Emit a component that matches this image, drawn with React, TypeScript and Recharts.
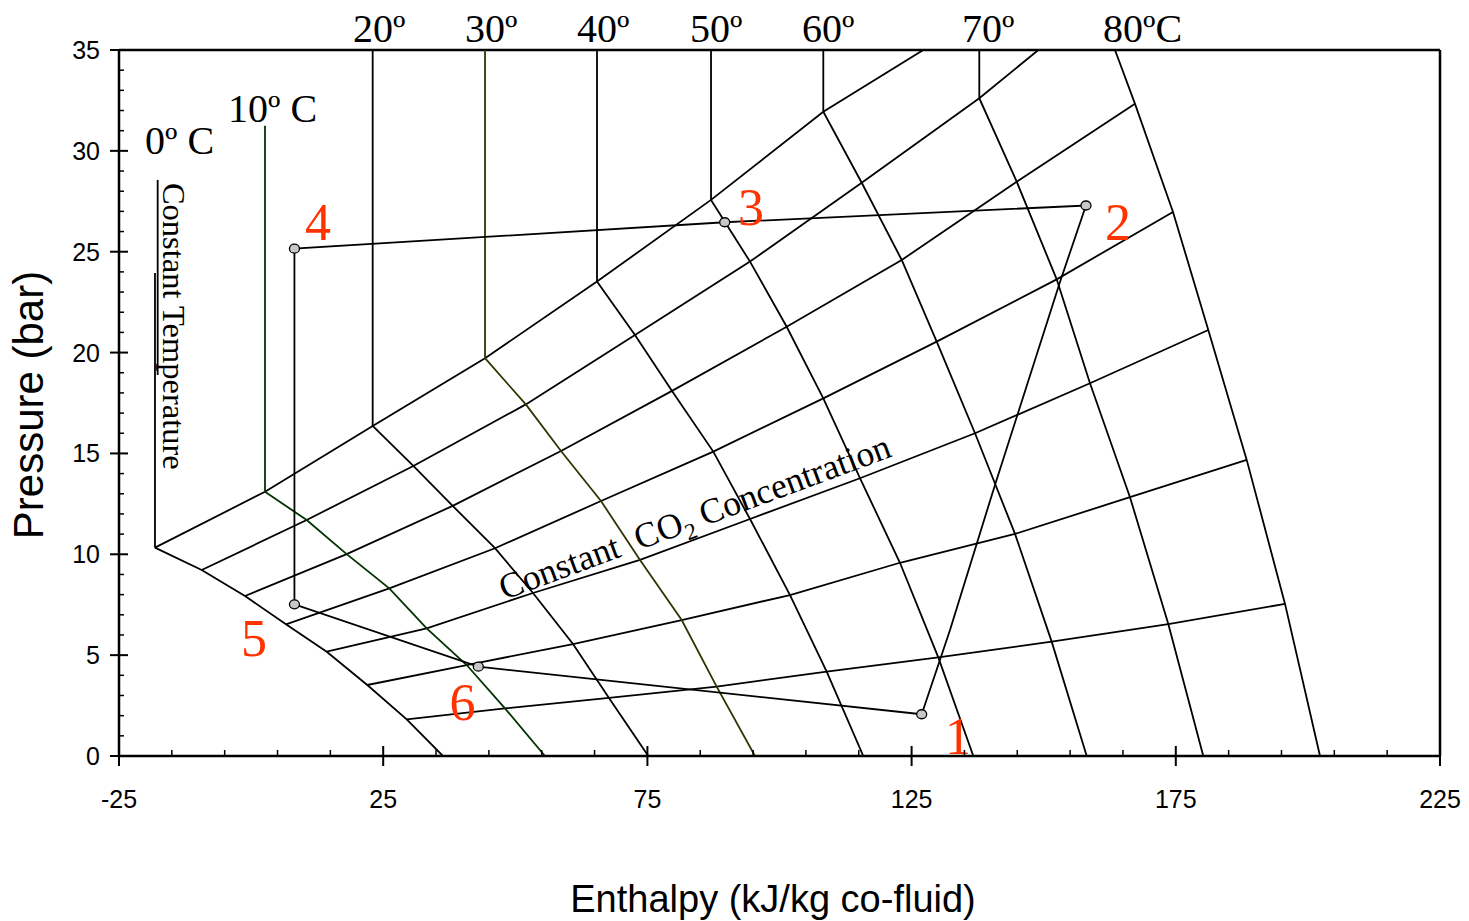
import React from 'react';
import { ComposedChart, Line, Scatter, XAxis, YAxis, ReferenceLine, ReferenceDot } from 'recharts';

type Pt = [number, number]; // [enthalpy kJ/kg, pressure bar]

const SERIF = '"Liberation Serif", "Times New Roman", serif';
const SANS = '"Liberation Sans", Arial, sans-serif';
const RED = '#ff3300';

// axis ticks
const xTicks = [-25, -15, -5, 5, 15, 25, 35, 45, 55, 65, 75, 85, 95, 105, 115, 125, 135, 145, 155, 165, 175, 185, 195, 205, 215, 225];
const xMajor = [-25, 25, 75, 125, 175, 225];
const yTicks = [0, 1, 2, 3, 4, 5, 6, 7, 8, 9, 10, 11, 12, 13, 14, 15, 16, 17, 18, 19, 20, 21, 22, 23, 24, 25, 26, 27, 28, 29, 30, 31, 32, 33, 34, 35];
const yMajor = [0, 5, 10, 15, 20, 25, 30, 35];

// 0 C saturation boundary and its vertical stub
const boundary0: Pt[] = [[-18.19, 10.33], [-9.35, 9.22], [-1.15, 7.93], [6.6, 6.53], [14.31, 5.17], [21.99, 3.52], [29.45, 1.82], [36.3, 0]];
const vertical0: Pt[] = [[-18.19, 10.33], [-18.19, 23.95]];
const tempLeader: Pt[] = [[-17.68, 28.56], [-17.68, 18.89]];

// constant temperature lines
const iso10: Pt[] = [[2.63, 31.25], [2.63, 13.1], [10.52, 11.7], [18.09, 10.01], [26.15, 8.31], [33.23, 6.33], [40.8, 4.51], [48.05, 2.36], [55.62, 0]];
const iso20: Pt[] = [[23.01, 35], [23.01, 16.36], [30.7, 14.38], [38.15, 12.4], [46.16, 10.3], [53.35, 8.08], [60.92, 5.55], [67.73, 2.88], [75.17, 0]];
const iso30: Pt[] = [[44.27, 35], [44.27, 19.72], [51.99, 17.43], [58.65, 15.12], [66.22, 12.64], [73.6, 9.72], [81.49, 6.74], [88.11, 3.44], [95.36, 0]];
const iso40: Pt[] = [[65.46, 35], [65.46, 23.52], [72.65, 20.87], [79.66, 18.1], [87.47, 15.09], [94.42, 11.75], [101.99, 7.98], [108.93, 4.18], [115.86, 0]];
const iso50: Pt[] = [[87.04, 35], [87.04, 27.57], [94.42, 24.51], [101.36, 21.28], [108.29, 17.73], [115.23, 13.77], [122.8, 9.58], [130.05, 4.89], [136.68, 0]];
const iso60: Pt[] = [[108.29, 35], [108.29, 31.94], [115.56, 28.42], [123.13, 24.59], [129.75, 20.54], [137.0, 16.0], [144.57, 11.01], [151.51, 5.67], [158.14, 0]];
const iso70: Pt[] = [[137.81, 35], [137.81, 32.61], [144.89, 28.47], [152.46, 23.63], [158.76, 18.48], [166.33, 12.83], [173.58, 6.54], [180.2, 0]];
const iso80: Pt[] = [[163.49, 35], [167.28, 32.33], [174.47, 26.97], [181.15, 21.12], [188.42, 14.68], [195.67, 7.54], [202.29, 0]];

// constant CO2 concentration lines
const concA: Pt[] = [[-18.19, 10.33], [2.63, 13.1], [23.01, 16.36], [44.27, 19.72], [65.46, 23.52], [87.04, 27.57], [108.29, 31.94], [127.21, 35]];
const concB: Pt[] = [[-9.35, 9.22], [10.52, 11.7], [30.7, 14.38], [51.99, 17.43], [72.65, 20.87], [94.42, 24.51], [115.56, 28.42], [137.81, 32.61], [148.98, 35]];
const concC: Pt[] = [[-1.15, 7.93], [18.09, 10.01], [38.15, 12.4], [58.65, 15.12], [79.66, 18.1], [101.36, 21.28], [123.13, 24.59], [144.89, 28.47], [167.28, 32.33]];
const concD: Pt[] = [[6.6, 6.53], [26.15, 8.31], [46.16, 10.3], [66.22, 12.64], [87.47, 15.09], [108.29, 17.73], [129.75, 20.54], [152.46, 23.63], [174.47, 26.97]];
const concE: Pt[] = [[14.31, 5.17], [33.23, 6.33], [53.35, 8.08], [73.6, 9.72], [94.42, 11.75], [115.23, 13.77], [137.0, 16.0], [158.76, 18.48], [181.15, 21.12]];
const concF: Pt[] = [[21.99, 3.52], [40.8, 4.51], [60.92, 5.55], [81.49, 6.74], [101.99, 7.98], [122.8, 9.58], [144.57, 11.01], [166.33, 12.83], [188.42, 14.68]];
const concG: Pt[] = [[29.45, 1.82], [48.05, 2.36], [67.73, 2.88], [88.11, 3.44], [108.93, 4.18], [130.05, 4.89], [151.51, 5.67], [173.58, 6.54], [195.67, 7.54]];

// cycle states 1..6 and the path 1-2-3-4-5-6-1
const states: Pt[] = [[126.91, 2.07], [158.0, 27.29], [89.63, 26.46], [8.2, 25.15], [8.2, 7.52], [43.0, 4.43]];
const cycle: Pt[] = [[126.91, 2.07], [132.27, 6.25], [140.78, 13.44], [146.84, 18.39], [153.08, 23.5], [158.0, 27.29], [89.63, 26.46], [8.2, 25.15], [8.2, 7.52], [43.0, 4.43], [126.91, 2.07]];
const stateLabels = ['1', '2', '3', '4', '5', '6'];
const stateLabelAt: Pt[] = [[133.78, 0.1], [164.06, 25.58], [94.6, 26.33], [12.66, 25.58], [0.55, 4.96], [40.01, 1.78]];

// temperature labels
const tempLabels = ['0º C', '10º C', '20º', '30º', '40º', '50º', '60º', '70º', '80ºC'];
const tempLabelAt: Pt[] = [[-20.08, 29.85], [-4.37, 31.45], [19.28, 35.4], [40.48, 35.4], [61.68, 35.4], [83.06, 35.4], [104.26, 35.4], [134.54, 35.4], [161.22, 35.4]];

const toXY = (pts: Pt[]) => pts.map(([x, y]) => ({ x, y }));

const blackLines = [boundary0, vertical0, tempLeader, iso20, iso40, iso50, iso60, iso70, iso80, concA, concB, concC, concD, concE, concF, concG];

const XTick = (p: any) => {
  const v = p.payload.value;
  const major = xMajor.includes(v);
  return (
    <g>
      <line x1={p.x} x2={p.x} y1={p.y - (major ? 10 : 6)} y2={p.y + (major ? 10 : 0)} stroke="#000" strokeWidth={major ? 2 : 1.5} />
      {major && (
        <text x={p.x} y={p.y + 52} textAnchor="middle" fontSize={25} fontFamily={SANS} fill="#000">
          {v}
        </text>
      )}
    </g>
  );
};

const YTick = (p: any) => {
  const v = p.payload.value;
  const major = yMajor.includes(v);
  return (
    <g>
      <line x1={p.x - (major ? 9 : 0)} x2={p.x + (major ? 9 : 5)} y1={p.y} y2={p.y} stroke="#000" strokeWidth={major ? 2 : 1.5} />
      {major && (
        <text x={p.x - 19} y={p.y + 9} textAnchor="end" fontSize={25} fontFamily={SANS} fill="#000">
          {v}
        </text>
      )}
    </g>
  );
};

const textDot = (render: (cx: number, cy: number) => React.ReactElement) => (p: any) => render(p.cx, p.cy);

export default function App() {
  return (
    <div style={{ position: 'absolute', left: 0, top: 0, background: '#fff' }}>
      <ComposedChart width={1469} height={921} margin={{ top: 50, right: 29, bottom: 0, left: 0 }}>
        <XAxis
          dataKey="x"
          type="number"
          domain={[-25, 225]}
          allowDataOverflow
          ticks={xTicks}
          interval={0}
          height={165}
          tickSize={0}
          tickMargin={0}
          tickLine={false}
          axisLine={{ stroke: '#000', strokeWidth: 2.5 }}
          tick={<XTick />}
        />
        <YAxis
          dataKey="y"
          type="number"
          domain={[0, 35]}
          allowDataOverflow
          ticks={yTicks}
          interval={0}
          width={119}
          tickSize={0}
          tickMargin={0}
          tickLine={false}
          axisLine={{ stroke: '#000', strokeWidth: 2.5 }}
          tick={<YTick />}
        />
        <ReferenceLine y={35} stroke="#000" strokeWidth={2.5} />
        <ReferenceLine x={225} stroke="#000" strokeWidth={2.5} />

        {blackLines.map((pts, i) => (
          <Line key={'b' + i} data={toXY(pts)} dataKey="y" type="linear" stroke="#000" strokeWidth={1.8} dot={false} isAnimationActive={false} />
        ))}
        <Line data={toXY(iso10)} dataKey="y" type="linear" stroke="#003300" strokeWidth={1.8} dot={false} isAnimationActive={false} />
        <Line data={toXY(iso30)} dataKey="y" type="linear" stroke="#333300" strokeWidth={1.8} dot={false} isAnimationActive={false} />
        <Line data={toXY(cycle)} dataKey="y" type="linear" stroke="#000" strokeWidth={1.8} dot={false} isAnimationActive={false} />
        <Scatter
          data={toXY(states)}
          isAnimationActive={false}
          shape={(p: any) => <ellipse cx={p.cx} cy={p.cy} rx={5} ry={4.5} fill="#c8c8c8" stroke="#000" strokeWidth={1.3} />}
        />

        {stateLabels.map((s, i) => (
          <ReferenceDot
            key={'s' + i}
            x={stateLabelAt[i][0]}
            y={stateLabelAt[i][1]}
            r={0}
            ifOverflow="visible"
            shape={textDot((cx, cy) => (
              <text x={cx} y={cy} textAnchor="middle" fontSize={52} fontFamily={SERIF} fill={RED}>
                {s}
              </text>
            ))}
          />
        ))}

        {tempLabels.map((s, i) => (
          <ReferenceDot
            key={'t' + i}
            x={tempLabelAt[i][0]}
            y={tempLabelAt[i][1]}
            r={0}
            ifOverflow="visible"
            shape={textDot((cx, cy) => (
              <text x={cx} y={cy} fontSize={40} fontFamily={SERIF} fill="#000">
                {s}
              </text>
            ))}
          />
        ))}

        <ReferenceDot
          x={-16.67}
          y={28.41}
          r={0}
          ifOverflow="visible"
          shape={textDot((cx, cy) => (
            <text x={cx} y={cy} transform={`rotate(90 ${cx} ${cy})`} fontSize={32.5} fontFamily={SERIF} fill="#000">
              Constant Temperature
            </text>
          ))}
        />
        <ReferenceDot
          x={47.9}
          y={7.73}
          r={0}
          ifOverflow="visible"
          shape={textDot((cx, cy) => (
            <text x={cx} y={cy} transform={`rotate(-20.3 ${cx} ${cy})`} fontSize={35.5} fontFamily={SERIF} fill="#000">
              {'Constant\u00a0\u00a0CO'}
              <tspan dy={8} fontSize={23}>2</tspan>
              <tspan dy={-8}>{' Concentration'}</tspan>
            </text>
          ))}
        />

        <ReferenceDot
          x={98.77}
          y={-7.73}
          r={0}
          ifOverflow="visible"
          shape={textDot((cx, cy) => (
            <text x={cx} y={cy} textAnchor="middle" fontSize={38} fontFamily={SANS} fill="#000">
              Enthalpy (kJ/kg co-fluid)
            </text>
          ))}
        />
        <ReferenceDot
          x={-39.4}
          y={17.4}
          r={0}
          ifOverflow="visible"
          shape={textDot((cx, cy) => (
            <text x={cx} y={cy} transform={`rotate(-90 ${cx} ${cy})`} textAnchor="middle" fontSize={42} fontFamily={SANS} fill="#000">
              Pressure (bar)
            </text>
          ))}
        />
      </ComposedChart>
    </div>
  );
}
